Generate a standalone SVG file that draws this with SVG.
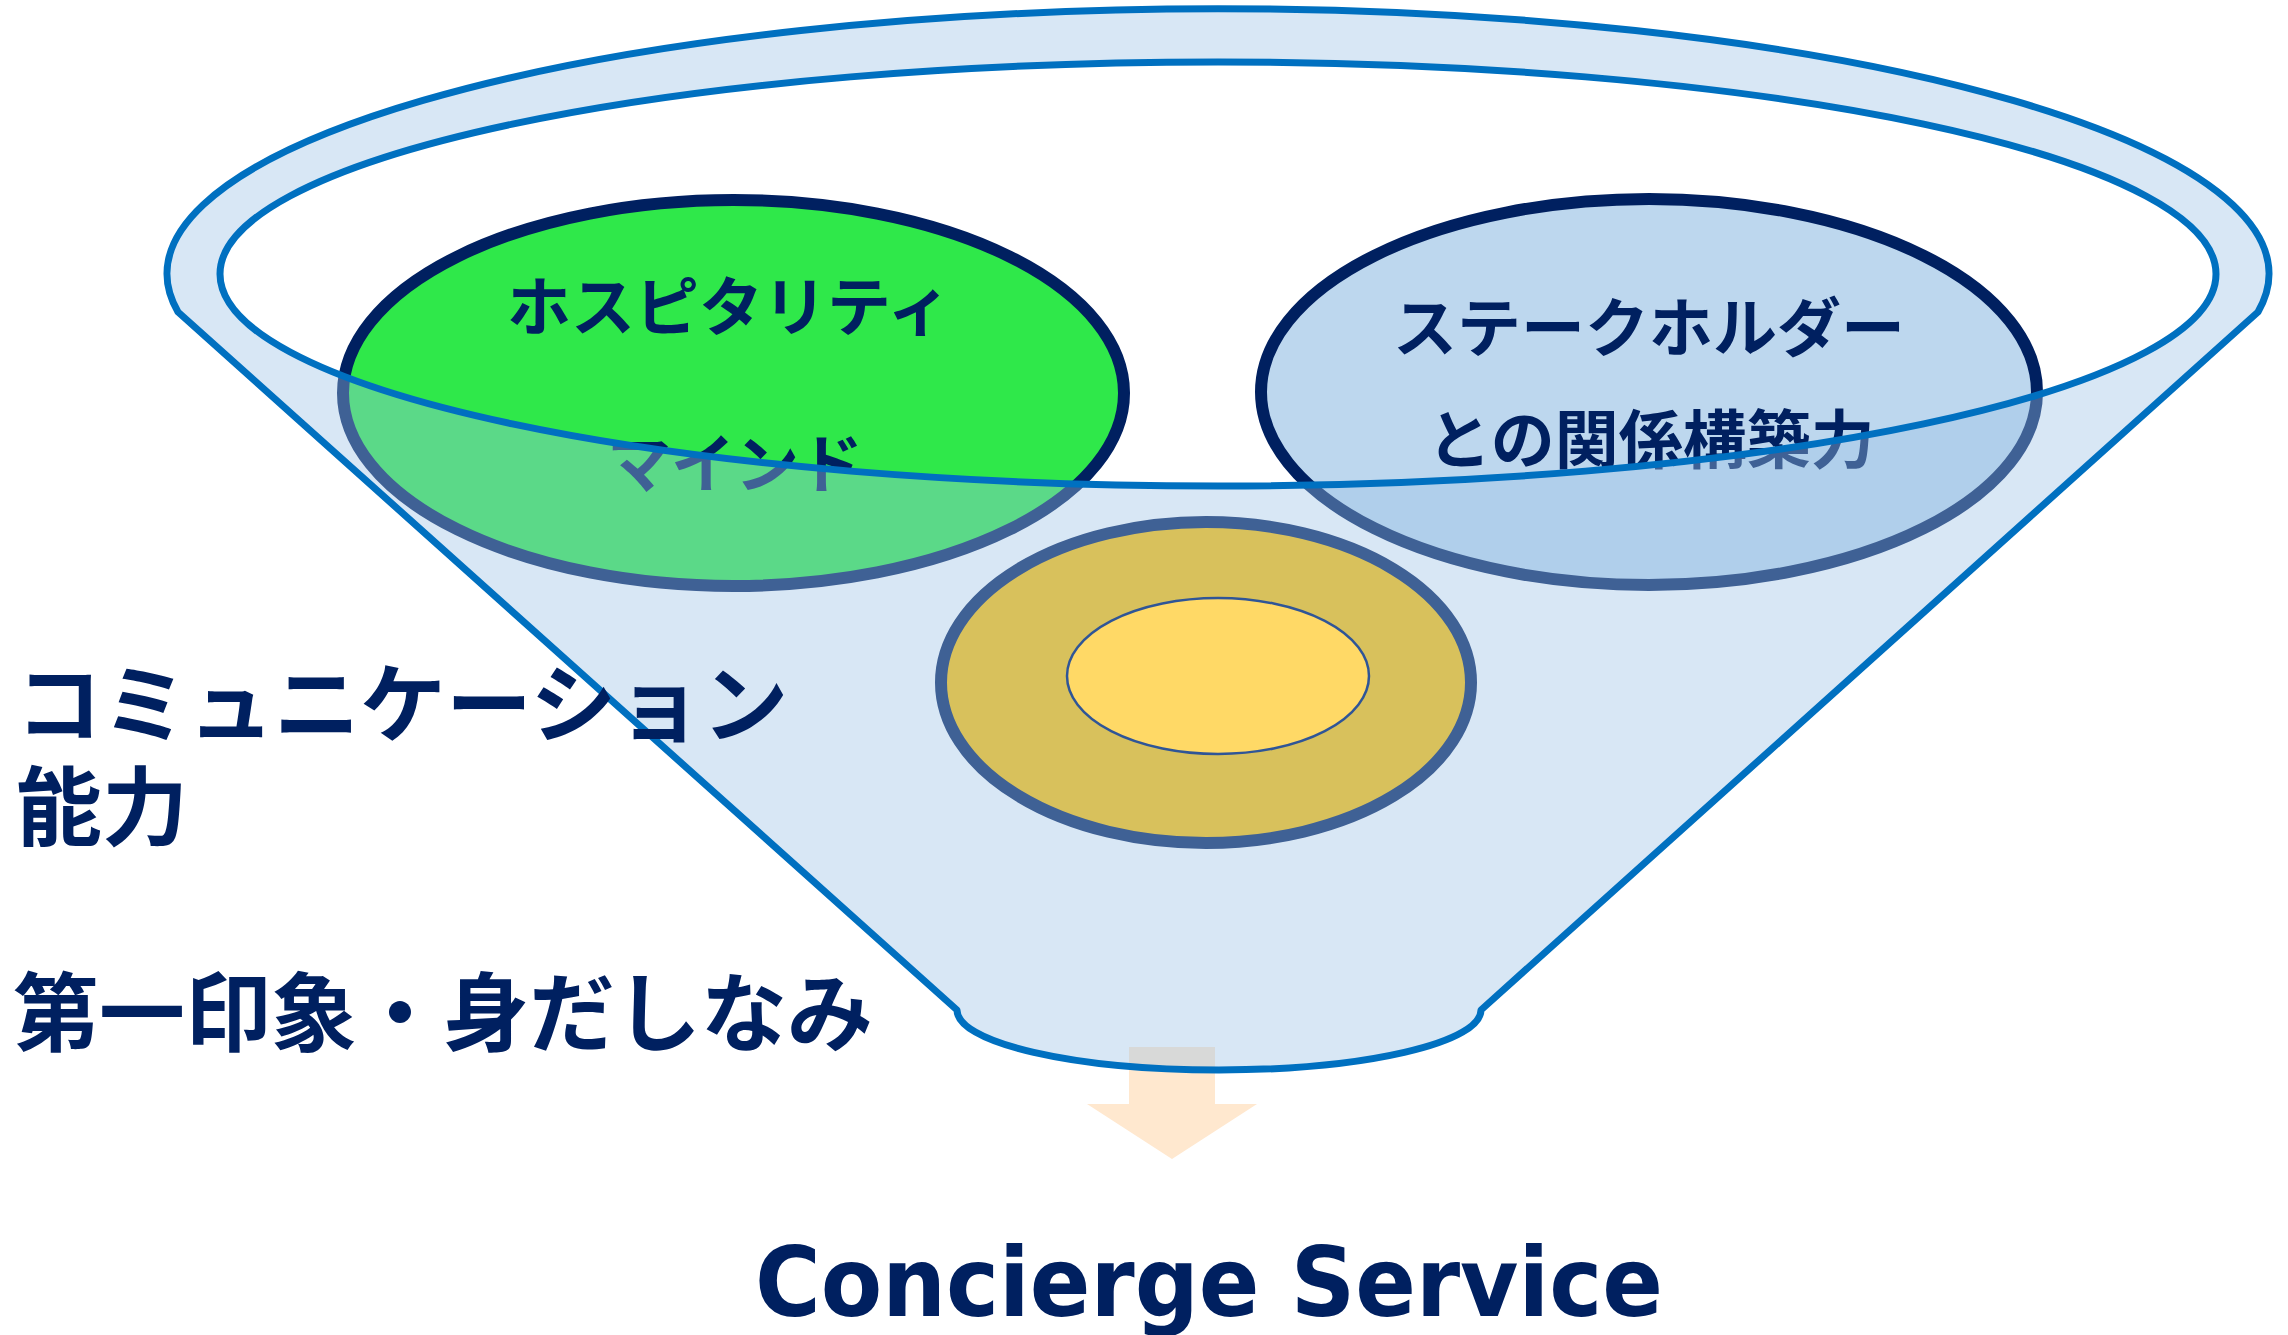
<svg xmlns="http://www.w3.org/2000/svg" width="2288" height="1335" viewBox="0 0 2288 1335">
  <style>
    .jp { font-family: "Noto Sans CJK JP", "Noto Sans", sans-serif; font-weight: bold; fill: #002060; }
    .node-ellipse { stroke: #002060; stroke-width: 12; }
    .funnel { fill: #9DC3E6; fill-opacity: 0.4; fill-rule: evenodd; stroke: #0070C0; stroke-width: 7; stroke-linejoin: round; }
  </style>
  <rect width="2288" height="1335" fill="#FFFFFF"/>

  <g id="connectors">
    <polygon id="arrow-down" points="1129,1047 1215,1047 1215,1104 1257,1104 1172,1159 1087,1104 1129,1104" fill="#FFE8CF"/>
  </g>

  <g id="node-hospitality">
    <ellipse class="node-ellipse" cx="733.5" cy="393" rx="390.5" ry="193" fill="#2FE84A"/>
    <text class="jp" x="729" y="330" font-size="64" text-anchor="middle">ホスピタリティ</text>
    <text class="jp" x="735" y="487" font-size="64" text-anchor="middle">マインド</text>
  </g>

  <g id="node-stakeholder">
    <ellipse class="node-ellipse" cx="1649" cy="392" rx="388" ry="193" fill="#BDD7EE"/>
    <text class="jp" x="1649" y="351" font-size="64" text-anchor="middle">ステークホルダー</text>
    <text class="jp" x="1651" y="463" font-size="64" text-anchor="middle">との関係構築力</text>
  </g>

  <g id="node-core-outer">
    <ellipse class="node-ellipse" cx="1206" cy="682.5" rx="265" ry="160.5" fill="#FFC000"/>
  </g>

  <g id="funnel">
    <path class="funnel" d="M 178 312 A 1051 265 0 1 1 2258 312 L 1481 1010 A 262 60 0 0 1 957 1010 Z M 220 274 A 998 212 0 1 0 2216 274 A 998 212 0 1 0 220 274 Z"/>
  </g>

  <g id="node-core-inner">
    <ellipse cx="1218" cy="676" rx="151" ry="78" fill="#FFD966" stroke="#2F5597" stroke-width="2.5"/>
  </g>

  <g id="label-communication">
    <text class="jp" font-size="86"><tspan x="16" y="736">コミュニケーション</tspan><tspan x="16" y="839">能力</tspan></text>
  </g>

  <g id="label-first-impression">
    <text class="jp" x="13" y="1045" font-size="86">第一印象・身だしなみ</text>
  </g>

  <g id="label-concierge">
    <text x="755" y="1316" font-family="'DejaVu Sans', Verdana, sans-serif" font-weight="bold" font-size="97" fill="#002060" textLength="908" lengthAdjust="spacingAndGlyphs">Concierge Service</text>
  </g>
</svg>
